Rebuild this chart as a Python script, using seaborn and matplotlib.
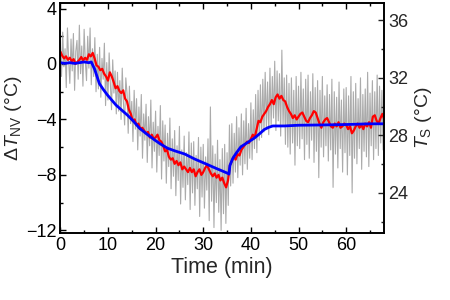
import numpy as np
import pandas as pd
import matplotlib
matplotlib.use("Agg")
import matplotlib.pyplot as plt
import seaborn as sns
from matplotlib.ticker import MultipleLocator

# raw NV temperature change (grey), sampled every 0.25 min
raw_dt = [1.6, -0.9, 2.3, -0.2, 1.1, -1.7, 2.6, 0.3,
          -1.4, 1.8, -0.5, 2.2, -1.9, 0.9, 1.7, -1.1,
          2.8, -0.7, 1.3, -1.6, 2.5, 0.2, -1.2, 2.0,
          -0.3, 2.6, -1.5, 1.1, -0.9, 1.9, -2.0, 0.7,
          -1.8, 1.2, -2.4, 0.4, -1.1, 1.5, -3.0, 0.1,
          -2.6, 0.8, -1.4, -3.3, 0.3, -2.1, -0.5, -3.6,
          -0.6, -3.4, -1.2, -4.0, -0.3, -2.8, -4.4, -1.0,
          -2.1, -5.0, -1.6, -4.3, -2.7, -5.6, -1.9, -4.7,
          -2.5, -6.2, -3.1, -5.2, -2.2, -6.8, -3.6, -5.5,
          -2.9, -7.1, -3.8, -5.9, -2.6, -7.5, -4.2, -6.3,
          -3.4, -7.8, -4.5, -6.6, -3.0, -8.3, -4.1, -7.0,
          -4.4, -8.6, -5.0, -7.4, -3.9, -9.0, -5.4, -8.1,
          -4.8, -9.5, -5.9, -8.4, -4.5, -10.1, -6.2, -8.9,
          -5.2, -9.8, -6.4, -8.7, -4.9, -10.5, -5.7, -9.3,
          -5.6, -10.2, -6.6, -9.0, -5.3, -11.0, -6.0, -9.6,
          -5.8, -10.4, -6.7, -9.1, -5.4, -11.3, -3.1, -9.9,
          -5.9, -11.8, -6.5, -10.0, -5.5, -10.7, -6.9, -12.0,
          -6.1, -10.8, -5.8, -11.5, -6.4, -10.2, -4.4, -8.8,
          -4.3, -8.6, -5.0, -7.8, -3.8, -8.2, -4.6, -7.3,
          -3.6, -8.0, -4.1, -7.2, -3.2, -7.6, -4.3, -6.8,
          -2.8, -6.9, -3.3, -6.1, -2.2, -6.4, -1.9, -5.5,
          -1.5, -5.3, -1.1, -4.9, -0.6, -4.6, -1.3, -5.1,
          -0.3, -4.4, -0.9, -3.9, 0.2, -4.8, -0.5, -4.1,
          -0.7, -5.2, 1.0, -4.5, -1.0, -5.8, -0.8, -6.0,
          -1.4, -6.5, -1.0, -5.7, -1.9, -7.3, -0.9, -5.9,
          -1.6, -6.1, -0.6, -5.4, -1.8, -6.9, -1.1, -5.8,
          -0.8, -6.8, -2.0, -5.5, -0.7, -7.1, -1.7, -6.3,
          -1.2, -8.2, -1.9, -6.0, -0.9, -6.7, -2.3, -5.9,
          -1.5, -7.0, -2.2, -6.2, -1.1, -8.9, -2.0, -6.5,
          -2.4, -7.5, -1.3, -6.1, -2.6, -7.8, -1.8, -6.4,
          -1.7, -8.0, -2.3, -6.6, -0.9, -9.3, -2.0, -6.8,
          -1.4, -7.2, -2.5, -6.1, -1.0, -7.6, -2.2, -6.3,
          -1.8, -6.7, -0.6, -7.4, -2.1, -5.9, -1.2, -6.9,
          -2.0, -6.1, -0.8, -6.6, -1.6, -5.7, -1.9, -6.2,
          -3.5]
raw_t = np.linspace(0, 68, len(raw_dt))

# smoothed NV temperature change (red), every 0.4 min
smooth_dt = [0.9, 0.6, 0.4, 0.55, 0.3, 0.45, 0.2, 0.35, 0.0, 0.15,
             0.3, 0.5, 0.25, 0.45, 0.3, 0.7, 0.55, 0.8, 0.4, -0.1,
             -0.2, -0.45, -0.35, -0.7, -0.9, -1.2, -0.6, -0.9, -1.3, -1.75,
             -1.6, -1.95, -2.1, -1.9, -2.5, -2.7, -3.3, -3.6, -4.1, -4.0,
             -4.4, -4.3, -4.7, -4.6, -4.8, -5.0, -4.9, -5.3, -5.1, -5.4,
             -5.3, -5.1, -5.5, -5.6, -5.9, -6.3, -6.2, -6.7, -6.9, -6.8,
             -7.2, -7.0, -7.3, -7.1, -7.6, -7.4, -7.6, -7.8, -7.5, -7.8,
             -7.6, -8.1, -7.8, -7.6, -8.0, -7.8, -7.5, -7.3, -7.6, -7.9,
             -8.1, -7.9, -8.2, -8.0, -8.4, -8.2, -8.6, -8.9, -8.4, -7.3,
             -7.0, -6.7, -6.9, -6.5, -6.6, -6.2, -6.0, -5.8, -5.6, -5.7,
             -5.4, -5.1, -5.3, -4.7, -4.1, -4.2, -3.8, -3.6, -3.4, -3.1,
             -2.9, -2.6, -2.9, -2.4, -2.2, -2.5, -2.3, -2.6, -2.7, -3.1,
             -3.4, -3.6, -3.9, -3.7, -4.0, -3.8, -3.6, -3.5, -3.8, -4.1,
             -4.2, -3.9, -3.7, -3.4, -3.5, -3.9, -4.3, -4.6, -4.2, -4.0,
             -3.9, -4.2, -4.5, -4.6, -4.3, -4.5, -4.2, -4.6, -4.5, -4.3,
             -4.4, -4.7, -4.5, -5.0, -4.8, -4.5, -4.3, -4.6, -4.4, -4.7,
             -4.3, -4.5, -4.2, -4.6, -3.8, -3.7, -4.1, -4.3, -3.9, -3.6, -4.0]
smooth_t = np.linspace(0, 68, len(smooth_dt))

# sample temperature (blue, right axis)
sample_t = [0, 1, 2, 3, 4, 5, 6, 6.5, 7.2, 8.2, 9.0, 9.9, 10.8, 11.7, 12.9,
            14.1, 15.3, 16.6, 18.1, 19.7, 21.0, 22.5, 24.2, 26.1, 28.2, 30.3,
            32.7, 35.2, 35.4, 35.6, 36.2, 37.0, 37.9, 39.3, 40.7, 41.8, 42.8,
            43.7, 44.6, 47, 50, 55, 60, 65, 68]
sample_T = [33.05, 33.0, 33.05, 33.0, 33.05, 33.1, 33.05, 33.1, 32.6, 31.6,
            31.2, 30.8, 30.45, 30.1, 29.75, 29.4, 29.0, 28.5, 28.1, 27.7,
            27.4, 27.1, 26.9, 26.7, 26.35, 26.05, 25.7, 25.35, 25.3, 25.9,
            26.4, 26.8, 27.2, 27.5, 27.8, 28.1, 28.4, 28.55, 28.65, 28.65,
            28.7, 28.72, 28.75, 28.8, 28.8]

sns.set_style("ticks")
plt.rcParams["font.family"] = ["Liberation Sans", "DejaVu Sans"]
plt.rcParams["mathtext.fontset"] = "custom"
plt.rcParams["mathtext.it"] = "Liberation Sans:italic"
plt.rcParams["mathtext.rm"] = "Liberation Sans"

fig = plt.figure(figsize=(4.5, 3), dpi=100)
ax = fig.add_axes([0.134, 0.223, 0.72, 0.767])

sns.lineplot(x=raw_t, y=raw_dt, ax=ax, color="#9c9c9c", lw=0.8,
             alpha=0.85, estimator=None, sort=False)
sns.lineplot(x=smooth_t, y=smooth_dt, ax=ax, color="#ff0000", lw=1.6,
             estimator=None, sort=False)

ax2 = ax.twinx()
sns.lineplot(x=sample_t, y=sample_T, ax=ax2, color="#0000ff", lw=2.0,
             estimator=None, sort=False)

ax.set_xlim(0, 68)
ax.set_ylim(-12.2, 4.4)
ax2.set_ylim(21.2, 37.2)

ax.xaxis.set_major_locator(MultipleLocator(10))
ax.xaxis.set_minor_locator(MultipleLocator(5))
ax.yaxis.set_major_locator(MultipleLocator(4))
ax.yaxis.set_minor_locator(MultipleLocator(2))
ax2.yaxis.set_major_locator(MultipleLocator(4))
ax2.yaxis.set_minor_locator(MultipleLocator(2))

ax.tick_params(which="both", direction="in", top=True, labelsize=13,
               width=1.0, colors="black", pad=3)
ax.tick_params(which="major", length=4)
ax.tick_params(which="minor", length=2.5)
ax2.tick_params(which="both", direction="in", labelsize=13, width=1.0,
                pad=3)
ax2.tick_params(which="major", length=4)
ax2.tick_params(which="minor", length=2.5)

for a in (ax, ax2):
    for s in a.spines.values():
        s.set_linewidth(1.2)
        s.set_color("black")

ax.set_xlabel("Time (min)", fontsize=15.5, labelpad=2)
ax.set_ylabel(r"$\Delta T_{\rm NV}$ (°C)", fontsize=14, labelpad=1)
ax2.set_ylabel(r"$T_{\rm S}$ (°C)", fontsize=14, labelpad=3)

fig.savefig("out.png", dpi=100)
